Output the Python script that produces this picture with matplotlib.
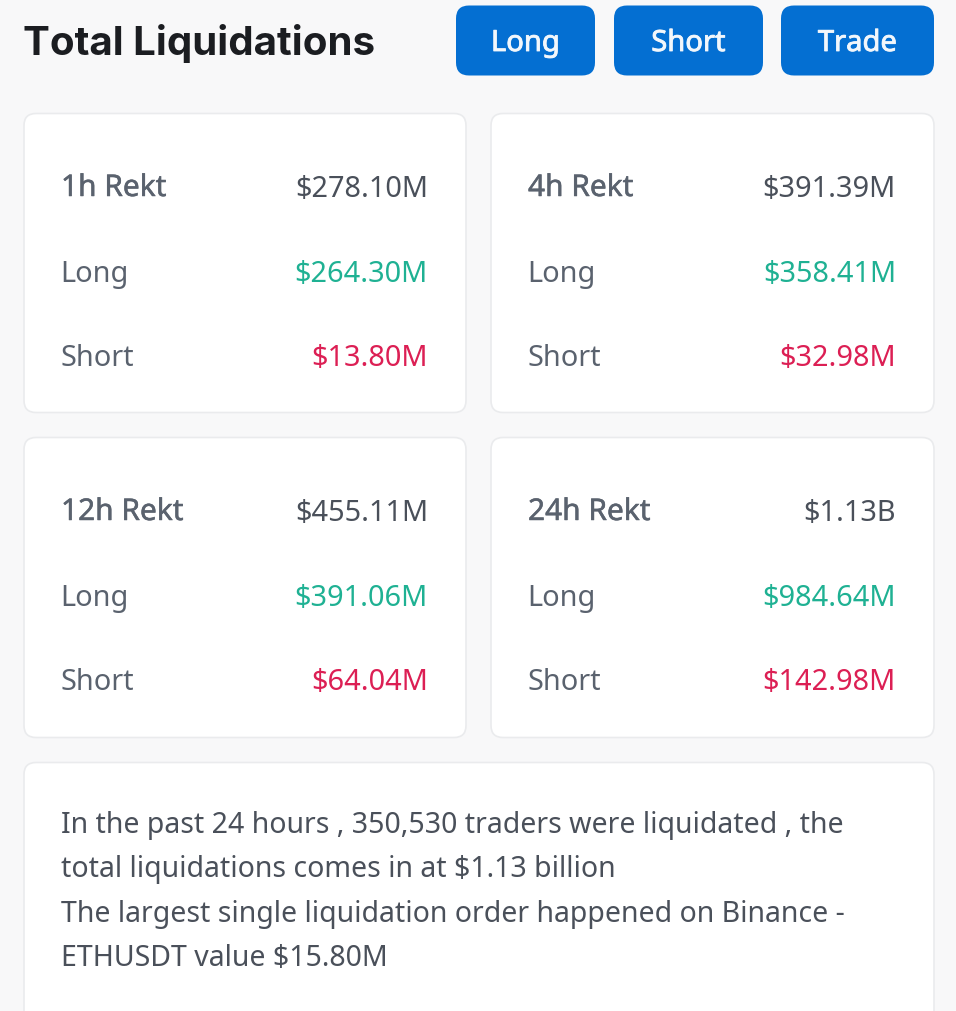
import matplotlib
matplotlib.use("Agg")
import matplotlib.pyplot as plt
import matplotlib.patheffects as pe
from matplotlib.patches import FancyBboxPatch

W = 956
H = 1012

periods = ["1h Rekt", "4h Rekt", "12h Rekt", "24h Rekt"]
totals = ["$278.10M", "$391.39M", "$455.11M", "$1.13B"]
longs = ["$264.30M", "$358.41M", "$391.06M", "$984.64M"]
shorts = ["$13.80M", "$32.98M", "$64.04M", "$142.98M"]
buttons = ["Long", "Short", "Trade"]
title = "Total Liquidations"
summary = ["In the past 24 hours , 350,530 traders were liquidated , the",
           "total liquidations comes in at $1.13 billion",
           "The largest single liquidation order happened on Binance -",
           "ETHUSDT value $15.80M"]

GREY = "#5a626e"
DARK = "#4a505a"
GREEN = "#1fb193"
RED = "#dc1f54"
BLUE = "#046fd2"
FONT = "Noto Sans"

fig = plt.figure(figsize=(W / 100, H / 100), dpi=100, facecolor="#f8f8f9")
ax = fig.add_axes([0, 0, 1, 1])
ax.set_xlim(0, W)
ax.set_ylim(H, 0)
ax.axis("off")

def box(x0, y0, x1, y1, color, edge="none", r=12):
    p = FancyBboxPatch((x0 + r, y0 + r), x1 - x0 - 2 * r, y1 - y0 - 2 * r,
                       boxstyle="round,pad=%d,rounding_size=%d" % (r, r),
                       facecolor=color, edgecolor=edge, linewidth=1.2)
    ax.add_patch(p)

def label(x, y, s, color, size=20.8, ha="left", heavy=0):
    t = ax.text(x, y, s, color=color, fontsize=size, ha=ha, va="baseline", family=FONT)
    ##Noto Sans has no medium weight here, so thicken the strokes a little
    if heavy:
        t.set_path_effects([pe.withStroke(linewidth=heavy, foreground=color)])

ax.text(23, 55, title, color="#1b1d21", fontsize=29, fontweight="bold",
        family="Inter", va="baseline", ha="left")

##Buttons
button_x = [(456, 595), (614, 763), (781, 934)]
for (x0, x1), name in zip(button_x, buttons):
    box(x0, 6.5, x1, 76.5, BLUE, r=13)
    label((x0 + x1) / 2, 52, name, "#f2f7fc", size=21, ha="center", heavy=0.6)

##Cards
card_x = [(24, 466), (491, 934), (24, 466), (491, 934)]
card_y = [(114.5, 413.5), (114.5, 413.5), (438.5, 738.5), (438.5, 738.5)]
for i in range(4):
    x0, x1 = card_x[i]
    y0, y1 = card_y[i]
    box(x0, y0, x1, y1, "white", edge="#eaebed")
    label(x0 + 37, y0 + 82.5, periods[i], GREY, size=21.5, heavy=0.35)
    label(x0 + 36, y0 + 167.5, "Long", GREY)
    label(x0 + 37, y0 + 251.5, "Short", GREY)
    label(x1 - 38, y0 + 82.5, totals[i], DARK, ha="right")
    label(x1 - 38, y0 + 167.5, longs[i], GREEN, ha="right")
    label(x1 - 38, y0 + 251.5, shorts[i], RED, ha="right")

##Summary card runs off the bottom edge
box(24, 763.5, 934, 1040, "white", edge="#eaebed")
line_y = [833, 877, 922, 966]
for y, line in zip(line_y, summary):
    label(61, y, line, DARK, size=20.5)

fig.savefig("out.png", dpi=100, facecolor=fig.get_facecolor())
